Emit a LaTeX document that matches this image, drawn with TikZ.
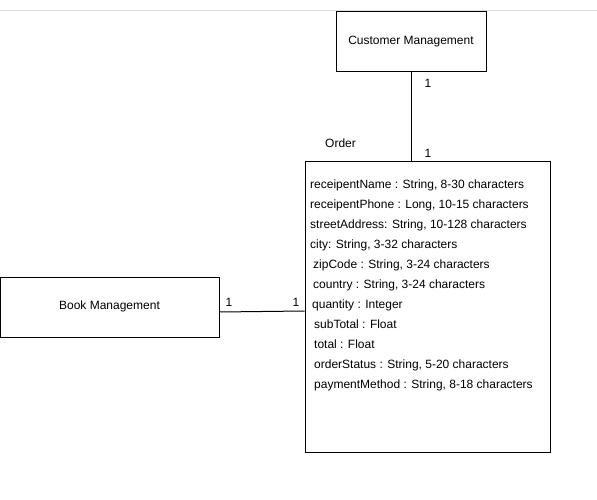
\documentclass[tikz,border=0pt]{standalone}
\usepackage{fontspec}
\setmainfont{Liberation Sans}
\usepackage{tikz}
\usetikzlibrary{positioning, calc}
\definecolor{rulegray}{RGB}{221, 221, 221}

\begin{document}
\begin{tikzpicture}[x=1pt, y=-1pt, font=\fontsize{12}{14}\selectfont,
  entity/.style={draw, line width=1pt, minimum width=#1, minimum height=60pt, inner sep=0pt},
  attr/.style={anchor=base west, inner sep=0pt},
  mult/.style={inner sep=0pt}]
  \useasboundingbox (0, 0) rectangle (597, 500);

  % page rule
  \draw[rulegray, line width=1pt] (0, 11) -- (597, 11);

  % Entities
  \node[entity=150pt] (cust) at (411, 42) {\raisebox{-1.5pt}{Customer Management}};
  \node[entity=219pt] (book) at (109.5, 307) {\raisebox{4pt}{Book Management}};
  \node[draw, line width=1pt, minimum width=245pt, minimum height=290pt, inner sep=0pt] (order) at (427.5, 307) {};
  \node[mult, anchor=base west] (ordlbl) at (325, 147) {Order};

  % Attributes of Order
  \node[attr] (a1) at (310, 188) {receipentName : String, 8-30 characters};
  \node[attr] (a2) at (310, 208) {receipentPhone : Long, 10-15 characters};
  \node[attr] (a3) at (310, 228) {streetAddress: String, 10-128 characters};
  \node[attr] (a4) at (310, 248) {city: String, 3-32 characters};
  \node[attr] (a5) at (313, 268) {zipCode : String, 3-24 characters};
  \node[attr] (a6) at (313, 288) {country : String, 3-24 characters};
  \node[attr] (a7) at (312, 308) {quantity : Integer};
  \node[attr] (a8) at (314, 328) {subTotal : Float};
  \node[attr] (a9) at (314, 348) {total : Float};
  \node[attr] (a10) at (314, 368) {orderStatus : String, 5-20 characters};
  \node[attr] (a11) at (314, 388) {paymentMethod : String, 8-18 characters};

  % Relations
  \draw[line width=1pt] (cust.south) -- (cust.south |- order.north);
  \draw[line width=1pt] ([yshift=-5pt]book.east) -- ([yshift=-4pt]order.west);

  % Multiplicities
  \node[mult] (m1) at (428, 83) {1};
  \node[mult] (m2) at (428, 153) {1};
  \node[mult] (m3) at (229, 302) {1};
  \node[mult] (m4) at (296, 302) {1};
\end{tikzpicture}
\end{document}
